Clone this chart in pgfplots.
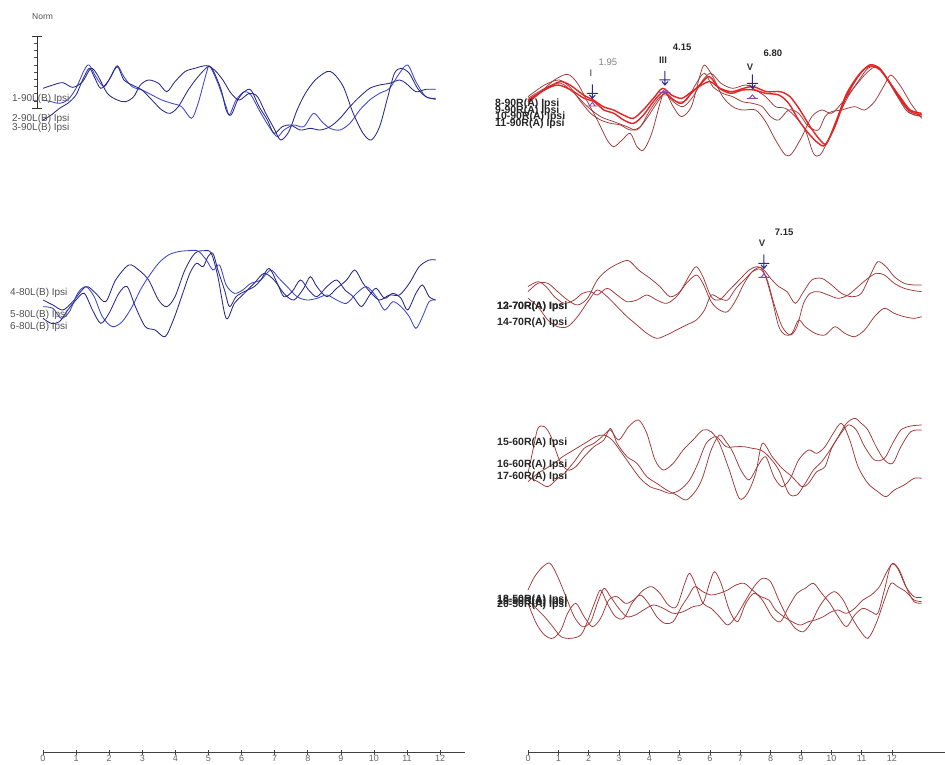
\documentclass[border=0pt]{standalone}
\usepackage{fontspec}
\setmainfont{Liberation Sans}
\usepackage{pgfplots}
\pgfplotsset{compat=1.18}
\definecolor{bA}{RGB}{40,40,135}
\definecolor{bB}{RGB}{60,70,205}
\definecolor{rA}{RGB}{228,35,35}
\definecolor{rB}{RGB}{160,55,55}
\definecolor{mk}{RGB}{40,40,150}
\definecolor{tmk}{RGB}{140,70,170}
\definecolor{lbl}{RGB}{80,80,80}
\pgfdeclareplotmark{peak}{%
 \pgfpathmoveto{\pgfqpoint{0pt}{9pt}}\pgfpathlineto{\pgfqpoint{0pt}{-5pt}}%
 \pgfpathmoveto{\pgfqpoint{-5.5pt}{0pt}}\pgfpathlineto{\pgfqpoint{5.5pt}{0pt}}%
 \pgfpathmoveto{\pgfqpoint{-3pt}{-1.5pt}}\pgfpathlineto{\pgfqpoint{0pt}{-5pt}}\pgfpathlineto{\pgfqpoint{3pt}{-1.5pt}}%
 \pgfusepathqstroke}
\pgfdeclareplotmark{trough}{%
 \pgfpathmoveto{\pgfqpoint{-5.5pt}{0pt}}\pgfpathlineto{\pgfqpoint{5.5pt}{0pt}}%
 \pgfpathmoveto{\pgfqpoint{-3pt}{0pt}}\pgfpathlineto{\pgfqpoint{0pt}{3.5pt}}\pgfpathlineto{\pgfqpoint{3pt}{0pt}}%
 \pgfusepathqstroke}
\tikzset{
 ltxt/.style={anchor=west, inner sep=0pt, font=\fontsize{10}{10}\selectfont, text=lbl},
 rtxt/.style={anchor=west, inner sep=0pt, font=\fontsize{10.5}{10}\selectfont\bfseries, text=black!85},
}
\pgfplotsset{
 wave/.style={scale only axis, hide axis, clip=false, y dir=reverse, height=764pt, width=396pt,
   xmin=0, xmax=12, anchor=south west},
 bl/.style={smooth, tension=0.5, line width=0.85pt, bA},
 bl2/.style={smooth, tension=0.5, line width=0.85pt, bB},
 rd/.style={smooth, tension=0.5, line width=1.4pt, rA},
 rd2/.style={smooth, tension=0.5, line width=0.75pt, rB},
 ruler/.style={scale only axis, anchor=south west, height=20pt, ymin=0, ymax=1,
   axis x line=bottom, axis y line=none, x axis line style={-, black!75, line width=0.8pt},
   xtick={0,...,12}, tick align=center, major tick length=5pt, tick style={black!75, line width=0.7pt},
   xticklabel style={font=\fontsize{9}{9}\selectfont, text=black!60, inner sep=1pt},
   /pgf/number format/assume math mode=true},
}
\begin{document}
\begin{tikzpicture}
\path[use as bounding box] (0,0) rectangle (945pt,764pt);
% Norm scale bar
\draw[black!80, line width=0.9pt] (37pt,728pt) -- (37pt,656pt);
\draw[black!80, line width=0.9pt] (32pt,728pt) -- (42pt,728pt);
\draw[black!80, line width=0.9pt] (32pt,656pt) -- (42pt,656pt);
\foreach \k in {1,...,9} {\draw[black!70, line width=0.5pt] (34pt,{728pt-7.2pt*\k}) -- (37pt,{728pt-7.2pt*\k});}
\node[anchor=west, inner sep=0pt, font=\fontsize{8.5}{9}\selectfont, text=lbl] at (32pt,747pt) {Norm};

% ---------- top left ----------
\begin{axis}[wave, at={(43pt,0pt)}, ymin=0, ymax=2292]
\addplot[bl2] coordinates {(0,300)(0.25,305)(0.5,310)(0.75,300)(1.0,265)(1.25,210)(1.4,195)(1.6,230)(1.85,260)(2.05,230)(2.25,197)(2.45,230)(2.7,260)(3.0,270)(3.3,285)(3.6,300)(3.9,310)(4.2,320)(4.5,355)(4.7,310)(4.95,220)(5.05,198)(5.3,250)(5.55,320)(5.65,345)(5.85,300)(6.1,275)(6.3,285)(6.55,330)(6.85,380)(7.1,410)(7.3,390)(7.6,375)(7.9,380)(8.2,340)(8.45,365)(8.7,385)(9.0,390)(9.3,370)(9.6,330)(9.9,300)(10.2,280)(10.5,265)(10.8,220)(11.05,195)(11.3,245)(11.6,290)(11.9,295)};
\addplot[bl] coordinates {(0,265)(0.3,255)(0.6,248)(0.9,262)(1.2,245)(1.45,205)(1.65,225)(1.95,280)(2.25,300)(2.5,305)(2.75,290)(2.95,255)(3.2,240)(3.5,250)(3.75,275)(4.0,245)(4.3,215)(4.6,205)(4.95,197)(5.2,210)(5.45,240)(5.7,280)(5.95,300)(6.25,280)(6.5,290)(6.75,340)(7.0,385)(7.2,420)(7.45,395)(7.7,330)(7.95,280)(8.25,240)(8.6,215)(8.8,220)(9.1,260)(9.4,340)(9.7,400)(9.95,420)(10.2,380)(10.45,290)(10.65,220)(10.85,205)(11.1,220)(11.35,265)(11.6,290)(11.9,298)};
\addplot[bl] coordinates {(0,360)(0.25,345)(0.5,325)(0.75,310)(1.0,285)(1.2,240)(1.4,205)(1.55,230)(1.75,265)(2.0,240)(2.25,200)(2.45,240)(2.7,255)(3.0,270)(3.3,300)(3.6,330)(3.85,340)(4.1,320)(4.4,270)(4.7,230)(5.0,200)(5.15,210)(5.4,270)(5.55,330)(5.7,345)(5.9,300)(6.1,275)(6.3,270)(6.55,320)(6.8,360)(7.0,400)(7.25,380)(7.5,375)(7.8,390)(8.1,385)(8.4,390)(8.7,380)(9.0,355)(9.3,320)(9.6,290)(9.9,265)(10.2,255)(10.5,250)(10.8,240)(11.0,250)(11.3,275)(11.6,268)(11.9,268)};
\node[ltxt] at (axis cs:-0.94,297) {1-90L(B) Ipsi};
\node[ltxt] at (axis cs:-0.94,358) {2-90L(B) Ipsi};
\node[ltxt] at (axis cs:-0.94,384) {3-90L(B) Ipsi};
\end{axis}

% ---------- middle left ----------
\begin{axis}[wave, at={(43pt,0pt)}, ymin=-690, ymax=1602]
\addplot[bl] coordinates {(0,210)(0.3,225)(0.6,240)(0.9,215)(1.3,170)(1.6,190)(1.9,215)(2.2,150)(2.6,105)(2.9,120)(3.2,150)(3.5,210)(3.75,230)(4.0,200)(4.3,120)(4.6,70)(4.9,62)(5.1,70)(5.3,140)(5.55,265)(5.8,220)(6.1,190)(6.4,160)(6.7,130)(7.0,150)(7.3,190)(7.6,210)(7.9,175)(8.1,140)(8.3,170)(8.6,200)(8.9,175)(9.2,150)(9.45,120)(9.7,160)(9.95,190)(10.2,210)(10.5,195)(10.8,195)(11.1,160)(11.4,110)(11.7,90)(11.9,90)};
\addplot[bl2] coordinates {(0,230)(0.3,235)(0.55,265)(0.8,245)(1.05,190)(1.3,170)(1.55,200)(1.8,260)(2.1,290)(2.4,275)(2.7,230)(2.95,180)(3.2,140)(3.5,100)(3.8,75)(4.1,65)(4.4,62)(4.7,63)(4.95,90)(5.15,120)(5.35,105)(5.55,165)(5.8,190)(6.05,180)(6.3,160)(6.6,150)(6.9,120)(7.15,145)(7.4,170)(7.7,200)(8.0,210)(8.3,205)(8.6,195)(8.9,210)(9.2,220)(9.5,190)(9.8,170)(10.1,200)(10.35,240)(10.6,215)(10.85,230)(11.1,260)(11.3,295)(11.5,260)(11.7,215)(11.9,210)};
\addplot[bl] coordinates {(0,265)(0.25,280)(0.5,275)(0.75,240)(1.0,210)(1.25,190)(1.5,240)(1.75,280)(2.0,250)(2.3,190)(2.55,170)(2.8,230)(3.1,290)(3.4,300)(3.7,320)(3.95,270)(4.2,200)(4.45,130)(4.65,100)(4.85,110)(5.0,80)(5.15,70)(5.3,120)(5.5,180)(5.65,230)(5.85,200)(6.1,185)(6.4,170)(6.6,150)(6.85,115)(7.1,160)(7.3,200)(7.55,185)(7.8,150)(8.05,180)(8.3,200)(8.6,170)(8.9,150)(9.15,180)(9.4,200)(9.65,230)(9.9,195)(10.1,175)(10.35,205)(10.6,190)(10.85,205)(11.05,240)(11.3,190)(11.5,165)(11.7,200)(11.9,210)};
\node[ltxt] at (axis cs:-1.0,189) {4-80L(B) Ipsi};
\node[ltxt] at (axis cs:-1.0,255) {5-80L(B) Ipsi};
\node[ltxt] at (axis cs:-1.0,291) {6-80L(B) Ipsi};
\end{axis}

% ---------- top right ----------
\begin{axis}[wave, at={(528pt,0pt)}, ymin=-90, ymax=2202]
\addplot[rd2] coordinates {(0,220)(0.4,185)(0.8,150)(1.2,133)(1.5,160)(1.8,215)(2.1,270)(2.4,330)(2.6,350)(2.85,330)(3.1,310)(3.3,350)(3.5,360)(3.75,310)(4.0,220)(4.15,185)(4.4,230)(4.65,260)(4.95,230)(5.2,140)(5.35,105)(5.6,140)(5.9,200)(6.2,230)(6.5,240)(6.9,240)(7.2,275)(7.5,330)(7.8,375)(8.0,370)(8.3,320)(8.6,260)(8.9,240)(9.2,250)(9.5,220)(9.9,170)(10.3,125)(10.6,110)(10.9,150)(11.2,200)(11.5,245)(11.93,260)};
\addplot[rd2] coordinates {(0,200)(0.5,165)(0.95,150)(1.3,175)(1.6,215)(1.9,250)(2.2,270)(2.5,280)(2.8,285)(3.1,300)(3.4,290)(3.7,240)(4.0,200)(4.2,195)(4.5,215)(4.8,210)(5.1,160)(5.35,130)(5.6,170)(5.9,190)(6.2,200)(6.5,215)(6.8,220)(7.1,230)(7.35,260)(7.6,270)(7.9,240)(8.2,250)(8.5,290)(8.8,300)(9.0,260)(9.2,245)(9.5,240)(9.9,230)(10.2,240)(10.5,215)(10.8,165)(11.0,135)(11.3,170)(11.6,220)(11.93,265)};
\addplot[rd2] coordinates {(0,205)(0.6,170)(1.0,160)(1.4,190)(1.8,230)(2.2,260)(2.6,275)(3.0,290)(3.3,300)(3.6,265)(3.9,220)(4.15,190)(4.4,215)(4.7,230)(5.0,200)(5.3,150)(5.55,130)(5.85,160)(6.2,175)(6.6,165)(6.9,180)(7.2,200)(7.5,230)(7.8,235)(8.1,260)(8.4,300)(8.65,370)(8.85,375)(9.1,330)(9.4,260)(9.7,200)(10.0,155)(10.3,115)(10.6,112)(10.9,150)(11.2,200)(11.6,250)(11.93,258)};
\addplot[rd] coordinates {(0,210)(0.57,175)(0.97,155)(1.27,165)(1.68,195)(1.98,210)(2.28,230)(2.59,240)(2.89,255)(3.19,265)(3.49,240)(3.8,205)(4.08,175)(4.35,195)(4.66,205)(4.96,185)(5.26,165)(5.52,155)(5.82,175)(6.17,185)(6.53,175)(6.83,170)(7.23,185)(7.64,185)(7.94,200)(8.24,240)(8.55,290)(8.85,330)(9.05,340)(9.35,270)(9.66,190)(10.06,130)(10.36,108)(10.67,120)(10.97,160)(11.27,200)(11.58,240)(11.93,250)};
\addplot[rd] coordinates {(0,215)(0.5,180)(0.9,165)(1.3,180)(1.7,205)(2.0,215)(2.3,240)(2.6,250)(2.9,270)(3.2,280)(3.5,255)(3.8,215)(4.1,185)(4.35,205)(4.65,220)(4.95,190)(5.25,160)(5.5,140)(5.8,175)(6.15,190)(6.5,180)(6.85,180)(7.2,190)(7.6,195)(7.9,220)(8.2,270)(8.5,310)(8.8,340)(9.0,345)(9.3,290)(9.6,210)(10.0,140)(10.35,105)(10.65,115)(10.95,155)(11.3,210)(11.6,245)(11.93,255)};
\addplot[only marks, mark=peak, mark size=5pt, mk, line width=1pt] coordinates {(1.95,190)(4.15,150)(6.80,160)};
\addplot[only marks, mark=trough, mark size=5pt, tmk, line width=0.9pt] coordinates {(1.95,228)(4.15,188)(6.80,205)};
\node[font=\fontsize{9.5}{10}\selectfont, text=black!50] at (axis cs:2.42,96) {1.95};
\node[font=\fontsize{9.5}{10}\selectfont, text=black!80] at (axis cs:1.91,129) {I};
\node[font=\fontsize{9.5}{10}\selectfont\bfseries, text=black!80] at (axis cs:4.09,90) {III};
\node[font=\fontsize{9.5}{10}\selectfont\bfseries, text=black!85] at (axis cs:4.67,51) {4.15};
\node[font=\fontsize{9.5}{10}\selectfont\bfseries, text=black!80] at (axis cs:6.73,111) {V};
\node[font=\fontsize{9.5}{10}\selectfont\bfseries, text=black!85] at (axis cs:7.42,69) {6.80};
\node[rtxt] at (axis cs:-1.0,222) {8-90R(A) Ipsi};
\node[rtxt] at (axis cs:-1.0,243) {9-90R(A) Ipsi};
\node[rtxt] at (axis cs:-1.0,261) {10-90R(A) Ipsi};
\node[rtxt] at (axis cs:-1.0,282) {11-90R(A) Ipsi};
\end{axis}

% ---------- 70 dB right ----------
\begin{axis}[wave, at={(528pt,0pt)}, ymin=-660, ymax=1632]
\addplot[rd2] coordinates {(0,215)(0.3,190)(0.6,190)(0.9,215)(1.2,240)(1.5,255)(1.8,235)(2.1,180)(2.4,150)(2.75,130)(3.05,122)(3.35,150)(3.7,175)(4.0,200)(4.3,230)(4.6,215)(4.9,165)(5.1,140)(5.3,170)(5.55,230)(5.8,240)(6.1,210)(6.4,180)(6.7,150)(6.95,140)(7.15,150)(7.35,175)(7.6,200)(7.85,215)(8.1,250)(8.35,215)(8.6,180)(8.9,175)(9.2,195)(9.5,220)(9.8,230)(10.1,220)(10.4,160)(10.6,125)(10.85,140)(11.1,170)(11.4,190)(11.7,195)(11.93,195)};
\addplot[rd2] coordinates {(0,200)(0.3,185)(0.55,200)(0.8,230)(1.1,250)(1.4,240)(1.65,220)(1.9,215)(2.1,225)(2.4,205)(2.7,225)(3.0,245)(3.3,240)(3.6,225)(3.9,240)(4.2,250)(4.5,230)(4.8,190)(5.1,165)(5.3,190)(5.55,245)(5.8,270)(6.05,275)(6.3,240)(6.55,190)(6.8,155)(7.05,148)(7.25,180)(7.45,250)(7.7,320)(7.95,345)(8.15,320)(8.35,250)(8.55,220)(8.8,215)(9.1,225)(9.4,235)(9.7,225)(10.0,200)(10.3,175)(10.55,160)(10.8,165)(11.1,190)(11.4,205)(11.7,212)(11.93,215)};
\addplot[rd2] coordinates {(0,235)(0.3,260)(0.6,300)(0.9,320)(1.2,320)(1.5,290)(1.85,240)(2.1,210)(2.4,230)(2.7,260)(3.0,290)(3.3,315)(3.6,340)(3.9,355)(4.2,345)(4.5,330)(4.8,315)(5.1,300)(5.35,270)(5.55,225)(5.8,235)(6.05,240)(6.3,205)(6.6,175)(6.85,150)(7.05,142)(7.2,170)(7.4,240)(7.6,320)(7.8,345)(8.0,340)(8.2,300)(8.4,320)(8.7,340)(9.0,345)(9.3,320)(9.6,340)(9.9,350)(10.2,330)(10.5,290)(10.8,265)(11.1,280)(11.4,290)(11.7,295)(11.93,290)};
\addplot[only marks, mark=peak, mark size=5pt, mk, line width=1pt] coordinates {(7.15,130)};
\addplot[only marks, mark=trough, mark size=5pt, tmk, line width=0.9pt] coordinates {(7.15,172)};
\node[font=\fontsize{9.5}{10}\selectfont\bfseries, text=black!80] at (axis cs:7.09,69) {V};
\node[font=\fontsize{9.5}{10}\selectfont\bfseries, text=black!85] at (axis cs:7.76,36) {7.15};
\node[rtxt] at (axis cs:-0.94,261) {12-70R(A) Ipsi};
\node[rtxt] at (axis cs:-0.94,261) {13-70R(A) Ipsi};
\node[rtxt] at (axis cs:-0.94,309) {14-70R(A) Ipsi};
\end{axis}

% ---------- 60 dB right ----------
\begin{axis}[wave, at={(528pt,0pt)}, ymin=-1230, ymax=1062]
\addplot[rd2] coordinates {(0,190)(0.15,120)(0.3,55)(0.5,50)(0.7,80)(0.95,150)(1.2,180)(1.45,170)(1.7,140)(2.0,110)(2.3,90)(2.5,55)(2.7,100)(3.0,140)(3.3,160)(3.6,200)(3.9,220)(4.2,240)(4.5,255)(4.8,270)(5.1,240)(5.3,200)(5.55,120)(5.8,75)(6.0,95)(6.2,125)(6.45,180)(6.7,210)(6.95,170)(7.2,140)(7.45,200)(7.7,230)(7.95,205)(8.2,150)(8.5,120)(8.75,130)(9.0,110)(9.25,70)(9.5,40)(9.75,90)(10.0,170)(10.3,220)(10.6,245)(10.85,260)(11.1,240)(11.4,225)(11.7,205)(11.93,205)};
\addplot[rd2] coordinates {(0,200)(0.3,215)(0.6,230)(0.9,205)(1.1,190)(1.4,155)(1.7,115)(2.0,100)(2.3,75)(2.5,60)(2.75,90)(3.05,50)(3.35,30)(3.6,70)(3.85,150)(4.1,180)(4.4,160)(4.7,120)(5.0,90)(5.3,60)(5.55,65)(5.8,100)(6.1,180)(6.4,265)(6.65,250)(6.9,190)(7.1,100)(7.4,140)(7.7,175)(8.0,200)(8.3,230)(8.5,220)(8.75,185)(9.0,170)(9.2,115)(9.45,75)(9.7,45)(9.95,60)(10.2,110)(10.5,150)(10.8,145)(11.05,100)(11.3,60)(11.6,48)(11.93,45)};
\addplot[rd2] coordinates {(0,215)(0.3,190)(0.55,175)(0.8,160)(1.05,140)(1.3,125)(1.55,110)(1.8,95)(2.05,80)(2.3,75)(2.55,90)(2.85,130)(3.1,165)(3.4,205)(3.7,230)(4.0,240)(4.3,250)(4.6,240)(4.9,210)(5.15,160)(5.4,100)(5.7,80)(6.0,110)(6.3,110)(6.55,110)(6.8,115)(7.05,120)(7.3,140)(7.6,180)(7.9,250)(8.15,255)(8.4,220)(8.65,180)(8.9,155)(9.15,120)(9.4,80)(9.65,40)(9.9,25)(10.1,40)(10.3,60)(10.55,110)(10.8,150)(11.05,160)(11.3,110)(11.6,65)(11.93,60)};
\node[rtxt] at (axis cs:-0.94,99) {15-60R(A) Ipsi};
\node[rtxt] at (axis cs:-0.94,165) {16-60R(A) Ipsi};
\node[rtxt] at (axis cs:-0.94,201) {17-60R(A) Ipsi};
\end{axis}

% ---------- 50 dB right ----------
\begin{axis}[wave, at={(528pt,0pt)}, ymin=-1650, ymax=642]
\addplot[rd2] coordinates {(0,120)(0.2,80)(0.45,50)(0.67,40)(0.9,80)(1.15,140)(1.4,200)(1.65,230)(1.9,215)(2.1,160)(2.3,115)(2.5,140)(2.75,175)(3.0,200)(3.25,195)(3.5,180)(3.8,165)(4.1,175)(4.4,190)(4.7,185)(5.0,170)(5.3,160)(5.5,100)(5.65,65)(5.85,100)(6.1,180)(6.35,215)(6.6,160)(6.85,130)(7.1,150)(7.4,200)(7.65,215)(7.9,170)(8.15,130)(8.4,115)(8.65,100)(8.9,130)(9.15,160)(9.4,200)(9.65,230)(9.9,195)(10.15,175)(10.4,185)(10.6,190)(10.8,120)(11.0,45)(11.2,55)(11.45,110)(11.7,140)(11.93,142)};
\addplot[rd2] coordinates {(0,150)(0.25,175)(0.5,200)(0.75,230)(1.0,260)(1.3,265)(1.6,255)(1.8,215)(2.05,150)(2.2,120)(2.4,160)(2.65,200)(2.9,205)(3.15,160)(3.4,135)(3.65,160)(3.9,200)(4.15,220)(4.4,215)(4.65,170)(4.85,140)(5.05,110)(5.3,125)(5.55,135)(5.8,130)(6.05,120)(6.3,105)(6.55,100)(6.8,120)(7.05,140)(7.3,150)(7.5,180)(7.75,200)(8.0,215)(8.25,225)(8.5,215)(8.7,210)(8.95,200)(9.2,185)(9.4,180)(9.65,190)(9.9,175)(10.15,150)(10.4,135)(10.65,110)(10.85,70)(11.05,40)(11.25,60)(11.5,120)(11.7,155)(11.93,160)};
\addplot[rd2] coordinates {(0,160)(0.25,220)(0.5,255)(0.75,265)(1.0,240)(1.2,190)(1.45,160)(1.7,200)(1.95,230)(2.2,205)(2.45,150)(2.7,140)(2.95,160)(3.2,150)(3.5,120)(3.75,110)(4.0,130)(4.25,165)(4.5,170)(4.75,100)(4.9,70)(5.1,110)(5.3,160)(5.55,175)(5.8,200)(6.05,225)(6.3,200)(6.6,150)(6.85,110)(7.1,85)(7.35,95)(7.6,150)(7.85,200)(8.1,235)(8.35,245)(8.6,215)(8.8,175)(9.05,140)(9.3,125)(9.55,150)(9.8,200)(10.05,240)(10.3,265)(10.55,220)(10.8,150)(11.0,100)(11.2,110)(11.45,125)(11.7,150)(11.93,155)};
\node[rtxt] at (axis cs:-0.94,150) {18-50R(A) Ipsi};
\node[rtxt] at (axis cs:-0.94,156) {19-50R(A) Ipsi};
\node[rtxt] at (axis cs:-0.94,165) {20-50R(A) Ipsi};
\end{axis}

% ---------- rulers ----------
\begin{axis}[ruler, at={(43pt,12pt)}, width=422pt, xmin=0, xmax=12.75]
\addplot[draw=none] coordinates {(0,0)};
\node[anchor=north, font=\fontsize{9}{9}\selectfont, text=black!60, inner sep=1pt] at (axis cs:12.55,0) [yshift=-2.5pt] {ms};
\end{axis}
\begin{axis}[ruler, at={(528pt,12pt)}, width=417pt, xmin=0, xmax=13.75]
\addplot[draw=none] coordinates {(0,0)};
\node[anchor=north, font=\fontsize{9}{9}\selectfont, text=black!60, inner sep=1pt] at (axis cs:13.42,0) [yshift=-2.5pt] {ms};
\end{axis}
\end{tikzpicture}
\end{document}
